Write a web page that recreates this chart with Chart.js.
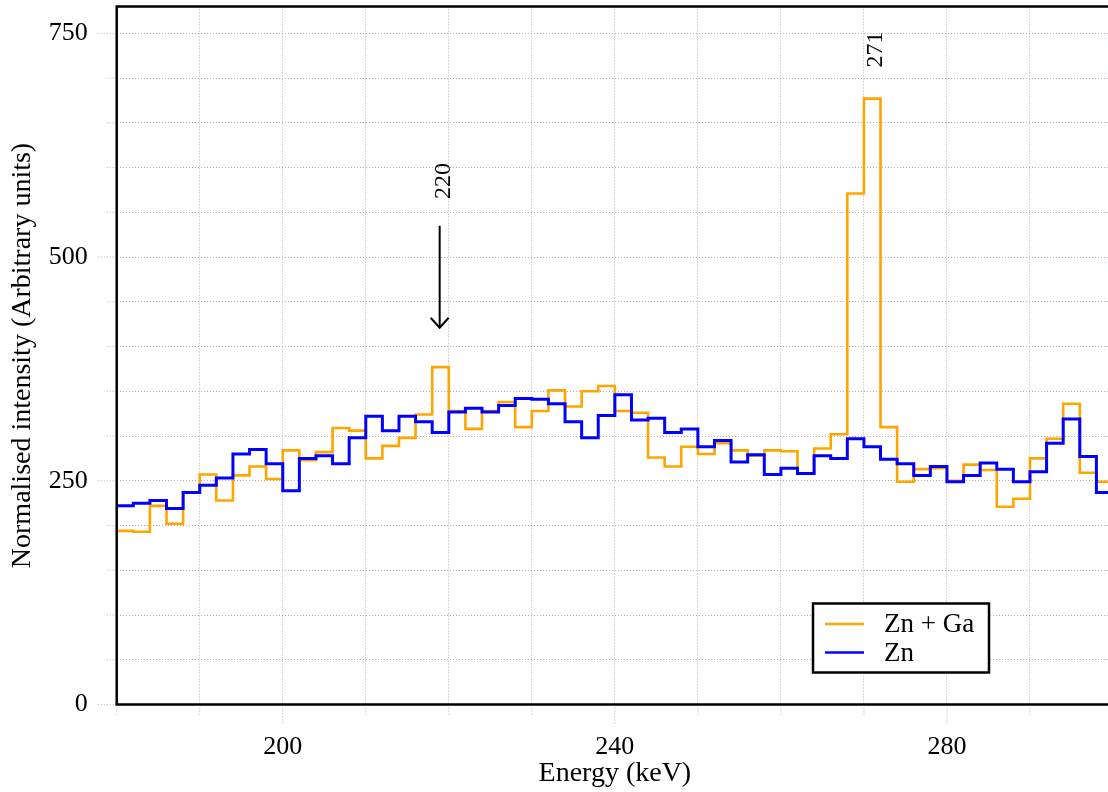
<!DOCTYPE html>
<html><head><meta charset="utf-8">
<script src="https://cdn.jsdelivr.net/npm/chart.js@4/dist/chart.umd.min.js"></script>
<style>html,body{margin:0;padding:0;background:#fff;overflow:hidden;} #wrap{width:1113px;height:792px;position:relative;}</style>
</head><body><div id="wrap"><canvas id="c"></canvas></div>
<script>
// Bin centres (keV), 2 keV wide bins
const energyBins = [181,183,185,187,189,191,193,195,197,199,201,203,205,207,209,211,213,215,217,219,
  221,223,225,227,229,231,233,235,237,239,241,243,245,247,249,251,253,255,257,259,
  261,263,265,267,269,271,273,275,277,279,281,283,285,287,289,291,293,295,297,299];
const znGa = [194,193,222,202,237,257,228,256,266,252,284,273,282,309,306,275,289,298,324,377,
  328,308,328,338,310,328,351,333,350,356,328,326,276,266,288,280,292,284,278,284,
  283,258,286,302,571,677,310,249,263,264,250,268,262,221,230,275,297,336,259,249];
const zn = [222,225,228,219,237,245,253,280,285,269,239,275,278,269,298,322,306,322,316,304,
  327,331,327,334,342,341,336,316,298,323,346,318,320,304,308,288,295,271,279,257,
  264,258,278,275,297,288,274,269,256,266,249,256,270,263,249,260,292,319,277,237];
const seriesNames = ['Zn + Ga', 'Zn'];
const xTickLabels = ['200','240','280'];
const yTickLabels = ['0','250','500','750'];
const peakLabels = ['220','271'];
const peakLabelX = [220.2, 272.2];
const peakLabelY = [585, 732];
const arrowX = [218.9];
const arrowTop = [535];
const arrowTip = [421];
const binWidth = 2;

const FONT = 'Liberation Serif';
const gridColor = '#caa4a4';

function stepPoints(centers, values){
  const pts = centers.map((c,i)=>({x:c-binWidth/2, y:values[i]}));
  pts.push({x:centers[centers.length-1]+binWidth/2, y:values[values.length-1]});
  return pts;
}
function noPad(s){ s.paddingTop = 0; s.paddingBottom = 0; s.paddingLeft = 0; s.paddingRight = 0; }

const decor = {
  id:'decor',
  beforeDatasetsDraw(chart){
    const {ctx, scales:{x,y}, chartArea:a} = chart;
    ctx.save();
    ctx.strokeStyle = gridColor; ctx.lineWidth = 1; ctx.setLineDash([1,2]);
    x.ticks.forEach(t=>{
      const px = x.getPixelForValue(t.value);
      const len = xTickLabels.includes(String(t.value)) ? 19 : 10.5;
      ctx.beginPath(); ctx.moveTo(px, a.bottom); ctx.lineTo(px, a.bottom+len); ctx.stroke();
    });
    y.ticks.forEach(t=>{
      const py = y.getPixelForValue(t.value);
      const len = yTickLabels.includes(String(t.value)) ? 20 : 10;
      ctx.beginPath(); ctx.moveTo(a.left, py); ctx.lineTo(a.left-len, py); ctx.stroke();
    });
    ctx.restore();
  },
  afterDatasetsDraw(chart){
    const {ctx, scales:{x,y}, chartArea:a} = chart;
    ctx.save();
    // frame
    ctx.strokeStyle = '#000'; ctx.lineWidth = 2.5; ctx.setLineDash([]);
    ctx.strokeRect(a.left, a.top, a.right-a.left, a.bottom-a.top);
    // peak labels
    ctx.fillStyle = '#000';
    ctx.font = '24px "' + FONT + '"';
    ctx.textAlign = 'center'; ctx.textBaseline = 'alphabetic';
    peakLabels.forEach((s,i)=>{
      ctx.save();
      ctx.translate(x.getPixelForValue(peakLabelX[i]), y.getPixelForValue(peakLabelY[i]));
      ctx.rotate(-Math.PI/2);
      ctx.fillText(s, 0, 0);
      ctx.restore();
    });
    // arrow
    arrowX.forEach((ax,i)=>{
      const px = x.getPixelForValue(ax);
      const p1 = y.getPixelForValue(arrowTop[i]);
      const p2 = y.getPixelForValue(arrowTip[i]);
      ctx.strokeStyle = '#000'; ctx.lineWidth = 2;
      ctx.beginPath(); ctx.moveTo(px, p1); ctx.lineTo(px, p2); ctx.stroke();
      ctx.beginPath(); ctx.moveTo(px-9, p2-10); ctx.lineTo(px, p2); ctx.lineTo(px+9, p2-10); ctx.stroke();
    });
    // legend
    const bw = 176, bh = 69;
    const bx = a.right - 124 - bw, by = a.bottom - 32 - bh;
    ctx.fillStyle = '#fff'; ctx.fillRect(bx, by, bw, bh);
    ctx.strokeStyle = '#000'; ctx.lineWidth = 2.5; ctx.strokeRect(bx, by, bw, bh);
    ctx.font = '27px "' + FONT + '"';
    ctx.textAlign = 'left'; ctx.textBaseline = 'middle';
    chart.data.datasets.forEach((ds,i)=>{
      const ly = by + 20.5 + i*28.6;
      ctx.strokeStyle = ds.borderColor; ctx.lineWidth = 2.5;
      ctx.beginPath(); ctx.moveTo(bx+12, ly); ctx.lineTo(bx+51, ly); ctx.stroke();
      ctx.fillStyle = '#000';
      ctx.fillText(ds.label, bx+71, ly+1);
    });
    ctx.restore();
  }
};

new Chart(document.getElementById('c'), {
  type:'line',
  data:{
    datasets:[
      {label:seriesNames[0], data:stepPoints(energyBins, znGa), borderColor:'#FFA500', borderWidth:2.6, stepped:'before', pointRadius:0, fill:false, order:2},
      {label:seriesNames[1], data:stepPoints(energyBins, zn), borderColor:'#0000FF', borderWidth:3, stepped:'before', pointRadius:0, fill:false, order:1}
    ]
  },
  options:{
    animation:false, responsive:true, maintainAspectRatio:false,
    layout:{padding:{top:6.5,left:0,right:0,bottom:0}},
    plugins:{legend:{display:false}, tooltip:{enabled:false}},
    scales:{
      x:{type:'linear', min:180, max:300,
        afterFit(s){ s.height = 87.5; noPad(s); },
        afterBuildTicks(s){ s.ticks = s.ticks.filter(t=>t.value%10===0); },
        ticks:{stepSize:10, autoSkip:false, includeBounds:false, maxRotation:0, padding:27, color:'#000',
          font:{family:FONT, size:26},
          callback:v=> xTickLabels.includes(String(v)) ? String(v) : ''},
        grid:{color:gridColor, lineWidth:1, drawTicks:false},
        border:{display:false, dash:[1,2]},
        title:{display:true, text:'Energy (keV)', color:'#000', font:{family:FONT, size:28}, padding:{top:0,bottom:2}}
      },
      y:{type:'linear', min:0, max:780,
        afterFit(s){ s.width = 116.7; noPad(s); },
        afterBuildTicks(s){ s.ticks = s.ticks.filter(t=>t.value%50===0); },
        ticks:{stepSize:50, autoSkip:false, includeBounds:false, padding:29, color:'#000',
          font:{family:FONT, size:26},
          callback:v=> yTickLabels.includes(String(v)) ? String(v) : ''},
        grid:{color:gridColor, lineWidth:1, drawTicks:false},
        border:{display:false, dash:[1,2]},
        title:{display:true, text:'Normalised intensity (Arbitrary units)', color:'#000', font:{family:FONT, size:28}, padding:{top:6,bottom:0}}
      }
    }
  },
  plugins:[decor]
});
</script>
</body></html>
